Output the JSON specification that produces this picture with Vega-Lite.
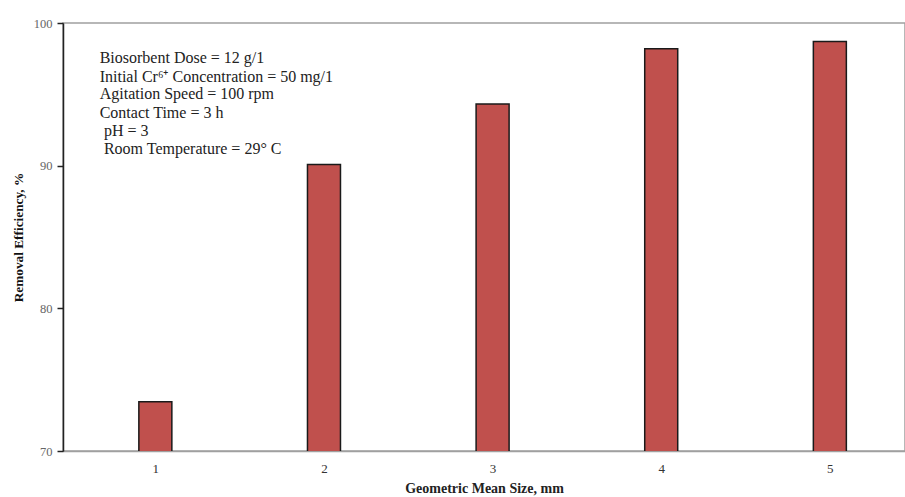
{
  "$schema": "https://vega.github.io/schema/vega-lite/v6.json",
  "width": 842,
  "height": 428,
  "autosize": {"type": "none"},
  "padding": {"left": 63, "top": 23, "right": 0, "bottom": 46},
  "background": "white",
  "config": {
    "view": {"stroke": "#a0a0a0", "strokeWidth": 1.5},
    "font": "Liberation Serif"
  },
  "datasets": {
    "bars": [
      {"size": 1, "eff": 73.46},
      {"size": 2, "eff": 90.08},
      {"size": 3, "eff": 94.33},
      {"size": 4, "eff": 98.2},
      {"size": 5, "eff": 98.71}
    ],
    "notes": [
      {"x": 0.67, "y": 97.55, "label": "Biosorbent Dose = 12 g/1"},
      {"x": 0.67, "y": 96.25, "label": "Initial Cr⁶⁺ Concentration = 50 mg/1"},
      {"x": 0.67, "y": 95.0, "label": "Agitation Speed = 100 rpm"},
      {"x": 0.67, "y": 93.72, "label": "Contact Time = 3 h"},
      {"x": 0.695, "y": 92.45, "label": "pH = 3"},
      {"x": 0.695, "y": 91.2, "label": "Room Temperature = 29° C"}
    ]
  },
  "layer": [
    {
      "data": {"name": "bars"},
      "mark": {"type": "bar", "width": 33, "clip": true, "color": "#C0504D", "stroke": "#1a1a1a", "strokeWidth": 1.5},
      "encoding": {
        "x": {
          "field": "size", "type": "quantitative",
          "scale": {"domain": [0.482, 5.416], "nice": false, "zero": false},
          "axis": {
            "values": [1, 2, 3, 4, 5], "format": "d",
            "title": "Geometric Mean Size, mm",
            "titleFont": "Liberation Serif", "titleFontSize": 14, "titleFontWeight": "bold", "titleColor": "#222",
            "titlePadding": 6,
            "labelFont": "Liberation Serif", "labelFontSize": 13, "labelColor": "#333", "labelPadding": 11,
            "ticks": false, "grid": false, "domainColor": "#a0a0a0", "domainWidth": 1.5
          }
        },
        "y": {
          "field": "eff", "type": "quantitative",
          "scale": {"domain": [70, 100], "nice": false, "zero": false},
          "axis": {
            "values": [70, 80, 90, 100],
            "title": "Removal Efficiency, %",
            "titleFont": "Liberation Serif", "titleFontSize": 13.3, "titleFontWeight": "bold", "titleColor": "#111",
            "titlePadding": 8,
            "labelFont": "Liberation Serif", "labelFontSize": 12.5, "labelColor": "#666", "labelPadding": 5,
            "tickSize": 6, "tickColor": "#222", "tickWidth": 1.5,
            "grid": false, "domainColor": "#222", "domainWidth": 1.5
          }
        }
      }
    },
    {
      "data": {"name": "notes"},
      "mark": {"type": "text", "align": "left", "baseline": "middle", "font": "Liberation Serif", "fontSize": 16, "color": "#222"},
      "encoding": {
        "x": {"field": "x", "type": "quantitative"},
        "y": {"field": "y", "type": "quantitative"},
        "text": {"field": "label"}
      }
    }
  ]
}
